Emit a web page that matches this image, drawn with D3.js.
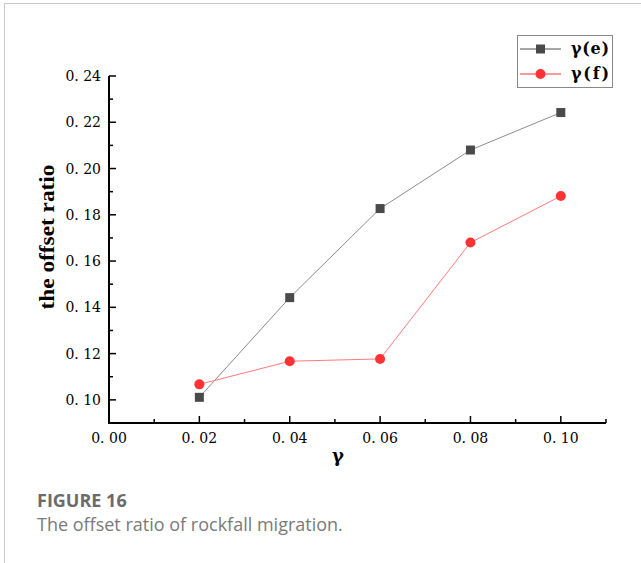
<!DOCTYPE html>
<html>
<head>
<meta charset="utf-8">
<script src="https://cdn.jsdelivr.net/npm/d3@7"></script>
<style>
  body { margin: 0; background: #fff; }
  svg { display: block; }
</style>
</head>
<body>
<div id="chart"></div>
<script>
// data
var gammas = [0.02, 0.04, 0.06, 0.08, 0.10];
var seriesE = [0.1011, 0.1442, 0.1827, 0.2080, 0.2242];
var seriesF = [0.1067, 0.1167, 0.1177, 0.1680, 0.1881];
var seriesNames = ["γ(e)", "γ(f)"];
var xTicks = [0.00, 0.02, 0.04, 0.06, 0.08, 0.10];
var yTicks = [0.10, 0.12, 0.14, 0.16, 0.18, 0.20, 0.22, 0.24];

var w = 641, h = 563;
var serif = "'DejaVu Serif', 'Liberation Serif', serif";
var times = "'Liberation Serif', 'DejaVu Serif', serif";

var svg = d3.select("#chart").append("svg")
            .attr("width", w)
            .attr("height", h);

// page frame
svg.append("path")
   .attr("d", "M4.5," + h + "L4.5,3.5L" + w + ",3.5")
   .attr("fill", "none")
   .attr("stroke", "#c8c8c8")
   .attr("stroke-width", 1);

var x = d3.scaleLinear().domain([0, 0.11]).range([109, 606]);
var y = d3.scaleLinear().domain([0.09, 0.24]).range([423, 76]);

var fmt = function(d){ return d3.format(".2f")(d).replace(".", ". "); };

// minor ticks (inside)
var xMinor = d3.range(0.01, 0.111, 0.02);
var yMinor = d3.range(0.09, 0.24, 0.02);

var axisG = svg.append("g");

axisG.selectAll(".xmin").data(xMinor).enter().append("line")
     .attr("x1", function(d){ return x(d); }).attr("x2", function(d){ return x(d); })
     .attr("y1", 423).attr("y2", 419)
     .attr("stroke", "#000").attr("stroke-width", 1.5);
axisG.selectAll(".xmaj").data(xTicks).enter().append("line")
     .attr("x1", function(d){ return x(d); }).attr("x2", function(d){ return x(d); })
     .attr("y1", 423).attr("y2", 416)
     .attr("stroke", "#000").attr("stroke-width", 1.5);
axisG.selectAll(".ymin").data(yMinor).enter().append("line")
     .attr("y1", function(d){ return y(d); }).attr("y2", function(d){ return y(d); })
     .attr("x1", 109).attr("x2", 113)
     .attr("stroke", "#000").attr("stroke-width", 1.5);
axisG.selectAll(".ymaj").data(yTicks).enter().append("line")
     .attr("y1", function(d){ return y(d); }).attr("y2", function(d){ return y(d); })
     .attr("x1", 109).attr("x2", 116)
     .attr("stroke", "#000").attr("stroke-width", 1.5);

// axis lines
axisG.append("path")
     .attr("d", "M109," + y(0.24) + "L109,423L" + x(0.11) + ",423")
     .attr("fill", "none")
     .attr("stroke", "#000")
     .attr("stroke-width", 2);

axisG.selectAll(".xlab").data(xTicks).enter().append("text")
     .attr("x", function(d){ return x(d); })
     .attr("y", 443)
     .attr("text-anchor", "middle")
     .style("font-family", serif)
     .style("font-size", "14px")
     .text(fmt);

axisG.selectAll(".ylab").data(yTicks).enter().append("text")
     .attr("x", 101)
     .attr("y", function(d){ return y(d) + 5; })
     .attr("text-anchor", "end")
     .style("font-family", serif)
     .style("font-size", "14px")
     .text(fmt);

// axis titles
svg.append("text")
   .attr("x", 338).attr("y", 462)
   .attr("text-anchor", "middle")
   .style("font-family", serif).style("font-weight", "bold").style("font-size", "18px")
   .text("γ");

svg.append("text")
   .attr("transform", "translate(54,237) rotate(-90)")
   .attr("text-anchor", "middle")
   .attr("textLength", 145)
   .attr("lengthAdjust", "spacingAndGlyphs")
   .style("font-family", times).style("font-weight", "bold").style("font-size", "20px")
   .text("the offset ratio");

// series
var line = d3.line()
             .x(function(d){ return x(d[0]); })
             .y(function(d){ return y(d[1]); });

var dataE = d3.zip(gammas, seriesE);
var dataF = d3.zip(gammas, seriesF);

svg.append("path").datum(dataE)
   .attr("d", line).attr("fill", "none")
   .attr("stroke", "#8c8c8c").attr("stroke-width", 1);
svg.append("path").datum(dataF)
   .attr("d", line).attr("fill", "none")
   .attr("stroke", "#ff7a7a").attr("stroke-width", 1);

svg.selectAll(".sq").data(dataE).enter().append("rect")
   .attr("x", function(d){ return x(d[0]) - 4.5; })
   .attr("y", function(d){ return y(d[1]) - 4.5; })
   .attr("width", 9).attr("height", 9)
   .attr("fill", "#4a4a4a");

svg.selectAll(".ci").data(dataF).enter().append("circle")
   .attr("cx", function(d){ return x(d[0]); })
   .attr("cy", function(d){ return y(d[1]); })
   .attr("r", 5)
   .attr("fill", "#ff3333");

// legend
var lg = svg.append("g");
lg.append("rect")
  .attr("x", 517.5).attr("y", 35.5).attr("width", 95).attr("height", 52)
  .attr("fill", "#fff").attr("stroke", "#888").attr("stroke-width", 1);

var legendRows = [
  {name: seriesNames[0], stroke: "#4a4a4a", fill: "#4a4a4a", shape: "square"},
  {name: seriesNames[1], stroke: "#ff3333", fill: "#ff3333", shape: "circle"}
];

legendRows.forEach(function(r, i){
  var cy = 49 + i * 25;
  lg.append("line")
    .attr("x1", 520).attr("x2", 561).attr("y1", cy).attr("y2", cy)
    .attr("stroke", r.stroke).attr("stroke-width", 1);
  if(r.shape === "square"){
    lg.append("rect").attr("x", 536).attr("y", cy - 4.5).attr("width", 9).attr("height", 9)
      .attr("fill", r.fill);
  } else {
    lg.append("circle").attr("cx", 540.5).attr("cy", cy).attr("r", 5).attr("fill", r.fill);
  }
  lg.append("text")
    .attr("x", 571).attr("y", cy + 5)
    .attr("textLength", 38)
    .attr("lengthAdjust", "spacing")
    .style("font-family", serif).style("font-weight", "bold").style("font-size", "16px")
    .text(r.name);
});

// caption
svg.append("text")
   .attr("x", 37).attr("y", 507)
   .style("font-family", "'Open Sans', sans-serif").style("font-weight", "bold")
   .style("font-size", "18px").attr("fill", "#6b6b6b")
   .text("FIGURE 16");
svg.append("text")
   .attr("x", 37).attr("y", 531)
   .style("font-family", "'Open Sans', sans-serif")
   .style("font-size", "18px").attr("fill", "#7a7a7a")
   .text("The offset ratio of rockfall migration.");
</script>
</body>
</html>
